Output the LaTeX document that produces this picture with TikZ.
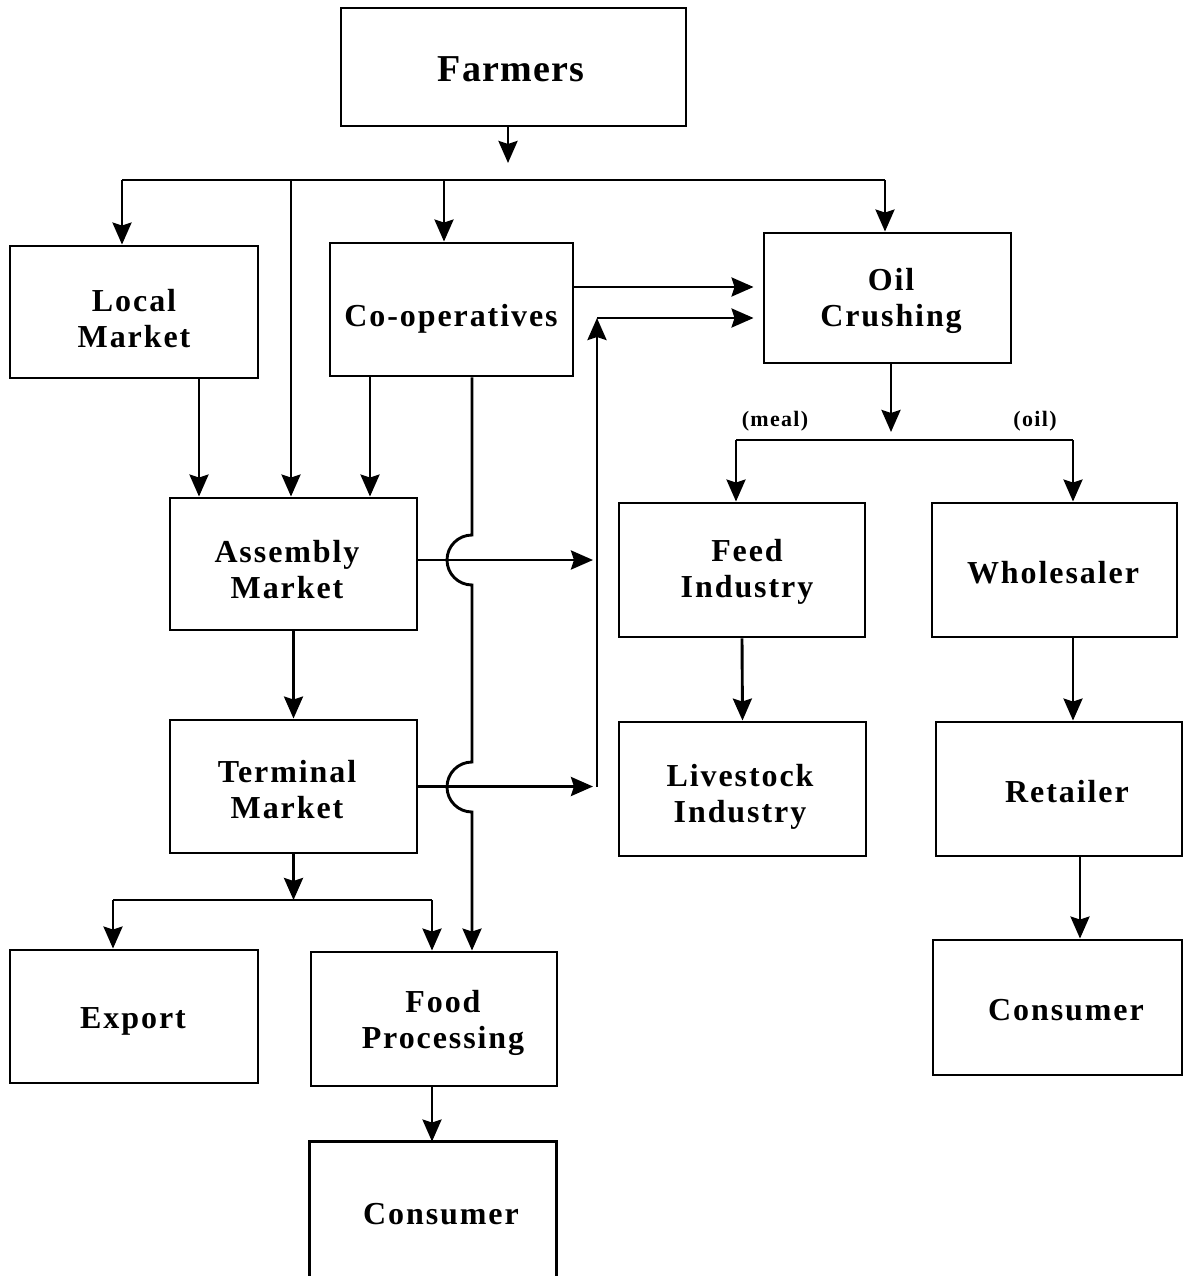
\documentclass[tikz,border=0pt]{standalone}
\usepackage{fontspec}
\setmainfont{Liberation Serif}
\newfontfamily\boxfont{Liberation Serif}[LetterSpace=6]
\newfontfamily\topfont{Liberation Serif}[LetterSpace=3]
\usetikzlibrary{arrows.meta,calc}
\begin{document}
\begin{tikzpicture}[x=1pt,y=-1pt,line width=2.9pt,
  box/.style={draw, line width=2.9pt, inner sep=0pt},
  txt/.style={inner sep=0pt, align=center, font=\boxfont\bfseries\fontsize{32}{36}\selectfont},
  arr/.style={line width=2.9pt, -{Stealth[length=22pt,width=19pt,inset=3pt]}},
  lbl/.style={inner sep=0pt, font=\boxfont\bfseries\fontsize{22}{24}\selectfont}]
\useasboundingbox (0,0) rectangle (1185,1276);

% boxes
\node[box, minimum width=345pt, minimum height=118pt] (farm) at (513.5,67) {};
\node[box, minimum width=248pt, minimum height=132pt] (local) at (134,312) {};
\node[box, minimum width=243pt, minimum height=133pt] (coop) at (451.5,309.5) {};
\node[box, minimum width=247pt, minimum height=130pt] (oil) at (887.5,298) {};
\node[box, minimum width=247pt, minimum height=132pt] (asm) at (293.5,564) {};
\node[box, minimum width=247pt, minimum height=133pt] (term) at (293.5,786.5) {};
\node[box, minimum width=248pt, minimum height=133pt] (export) at (134,1016.5) {};
\node[box, minimum width=246pt, minimum height=134pt] (food) at (434,1019) {};
\node[box, draw=none, minimum width=244pt, minimum height=140pt] (cons1) at (433,1213) {};
\draw (cons1.south west) -- (cons1.north west) -- (cons1.north east) -- (cons1.south east);
\node[box, minimum width=246pt, minimum height=134pt] (feed) at (742,570) {};
\node[box, minimum width=245pt, minimum height=134pt] (whole) at (1054.5,570) {};
\node[box, minimum width=247pt, minimum height=134pt] (live) at (742.5,789) {};
\node[box, minimum width=246pt, minimum height=134pt] (ret) at (1059,789) {};
\node[box, minimum width=249pt, minimum height=135pt] (cons2) at (1057.5,1007.5) {};

% texts
\node[txt, font=\topfont\bfseries\fontsize{38}{40}\selectfont] (farm-t) at (511,69) {Farmers};
\node[txt] (local-t) at (134,319) {Local\\Market};
\node[txt] (coop-t) at (451,319) {Co-operatives};
\node[txt] (oil-t) at (891,301) {Oil\\Crushing};
\node[txt] (asm-t) at (287,570) {Assembly\\Market};
\node[txt] (term-t) at (287,790) {Terminal\\Market};
\node[txt] (export-t) at (133,1021) {Export};
\node[txt] (food-t) at (443,1023) {Food\\Processing};
\node[txt] (cons1-t) at (441,1214) {Consumer};
\node[txt] (feed-t) at (747,572) {Feed\\Industry};
\node[txt] (whole-t) at (1053,573) {Wholesaler};
\node[txt] (live-t) at (740,797) {Livestock\\Industry};
\node[txt] (ret-t) at (1067,792) {Retailer};
\node[txt] (cons2-t) at (1066,1010) {Consumer};

% labels
\node[lbl] (meal) at (775,421) {(meal)};
\node[lbl] (oillbl) at (1035,421) {(oil)};

% top bus
\coordinate (bL) at (122,180);
\coordinate (bA) at (291,180);
\coordinate (bC) at (444,180);
\coordinate (bM) at (508,180);
\coordinate (bR) at (885,180);
\draw (bL) -- (bR);
\draw[arr] (farm.south -| bM) -- ($(bM)+(0,-17)$);
\draw[arr] (bL) -- (bL |- local.north);
\draw[arr] (bA) -- (bA |- asm.north);
\draw[arr] (bC) -- (bC |- coop.north);
\draw[arr] (bR) -- (bR |- oil.north);

% co-ops to oil crushing
\coordinate (co1) at ([yshift=22.5pt]coop.east);
\draw[arr, shorten >=9pt] (co1) -- (co1 -| oil.west);

% vertical collector to oil crushing
\coordinate (vt) at (597,318);
\coordinate (vb) at (597,787);
\draw[arr] (vb) -- (vt);
\draw[arr, shorten >=9pt] (vt) -- (vt -| oil.west);

% assembly / terminal to collector
\coordinate (a1) at ([yshift=4pt]asm.east);
\draw[arr] (a1) -- ($(a1 -| vb)+(-4,0)$);
\draw[arr] (term.east) -- ($(term.east -| vb)+(-4,0)$);

% co-ops line to food processing with hops
\coordinate (cx) at ([xshift=20.5pt]coop.south);
\draw[arr] (cx) -- (472,535) arc[start angle=90,end angle=270,radius=25pt]
  -- (472,762) arc[start angle=90,end angle=270,radius=25pt]
  -- (cx |- food.north);

% local / co-ops to assembly
\coordinate (l1) at ([xshift=65pt]local.south);
\draw[arr] (l1) -- (l1 |- asm.north);
\coordinate (c2) at ([xshift=-81.5pt]coop.south);
\draw[arr] (c2) -- (c2 |- asm.north);

% assembly to terminal
\draw[arr] (asm.south) -- (asm.south |- term.north);

% terminal to export / food
\coordinate (b2L) at (113,900);
\coordinate (b2R) at (432,900);
\draw[arr] (term.south) -- (term.south |- b2L);
\draw (b2L) -- (b2R);
\draw[arr] (b2L) -- (b2L |- export.north);
\draw[arr] (b2R) -- (b2R |- food.north);
\draw[arr] (b2R |- food.south) -- (b2R |- cons1.north);

% oil crushing outputs
\coordinate (b3L) at (736,440);
\coordinate (b3M) at (891,440);
\coordinate (b3R) at (1073,440);
\draw[arr] (oil.south -| b3M) -- ($(b3M)+(0,-8)$);
\draw (b3L) -- (b3R);
\draw[arr] (b3L) -- (b3L |- feed.north);
\draw[arr] (b3R) -- (b3R |- whole.north);
\draw[arr] (feed.south) -- (live.north);
\draw[arr] (b3R |- whole.south) -- (b3R |- ret.north);
\coordinate (r1) at ([xshift=21pt]ret.south);
\draw[arr] (r1) -- (r1 |- cons2.north);
\end{tikzpicture}
\end{document}
